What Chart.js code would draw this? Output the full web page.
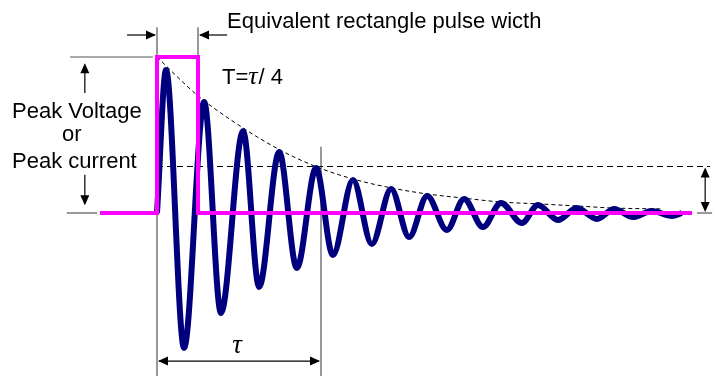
<!DOCTYPE html>
<html>
<head>
<meta charset="utf-8">
<script src="https://cdn.jsdelivr.net/npm/chart.js@4/dist/chart.umd.min.js"></script>
<style>
  html, body { margin: 0; padding: 0; background: #fff; }
  #c { display: block; }
</style>
</head>
<body>
<canvas id="c" width="719" height="376"></canvas>
<script>
// time in units of the pulse width T, amplitude relative to the peak (1 = top of the pulse)
const TAU = 4;          // tau = 4 T
const LEVEL = 0.298;    // dashed reference level

// equivalent rectangle pulse
const pulseT = [-1.39, 0, 0, 1, 1, 13.05];
const pulseV = [0, 0, 1, 1, 0, 0];

// damped oscillation (peaks and troughs)
const waveT = [0, 0.22, 0.66, 1.15, 1.56, 2.10, 2.49, 2.98, 3.41, 3.88, 4.29, 4.78, 5.24, 5.71, 6.15,
               6.59, 7.07, 7.49, 7.95, 8.39, 8.90, 9.29, 9.78, 10.24, 10.73, 11.15, 11.61, 12.07, 12.56, 12.80];
const waveV = [0, 0.917, -0.865, 0.712, -0.641, 0.526, -0.474, 0.391, -0.353, 0.288, -0.269, 0.212, -0.199, 0.154, -0.154,
               0.109, -0.109, 0.090, -0.090, 0.064, -0.064, 0.051, -0.045, 0.032, -0.038, 0.026, -0.026, 0.013, -0.019, 0];

// envelope
const envT = [0, 0.98, 2.10, 3.00, 3.90, 4.78, 5.73, 6.59, 7.46, 8.37, 9.34, 10.24, 11.12, 12.34];
const envV = [1.0, 0.756, 0.545, 0.404, 0.295, 0.218, 0.160, 0.122, 0.096, 0.071, 0.058, 0.045, 0.032, 0.026];

// horizontal reference
const levelT = [0, 13.49];
const levelV = [LEVEL, LEVEL];

const pts = (xs, ys) => xs.map((x, i) => ({ x: x, y: ys[i] }));

const SANS = '"Liberation Sans", Arial, sans-serif';
const SERIF = '"Liberation Serif", "DejaVu Serif", serif';

function arrowHead(ctx, x, y, dx, dy) {
    // filled head pointing along (dx,dy), tip at (x,y)
    const len = 10, half = 4.5;
    const n = Math.hypot(dx, dy); dx /= n; dy /= n;
    ctx.beginPath();
    ctx.moveTo(x, y);
    ctx.lineTo(x - dx * len - dy * half, y - dy * len + dx * half);
    ctx.lineTo(x - dx * len + dy * half, y - dy * len - dx * half);
    ctx.closePath();
    ctx.fill();
}

function line(ctx, x1, y1, x2, y2) {
    ctx.beginPath();
    ctx.moveTo(x1, y1);
    ctx.lineTo(x2, y2);
    ctx.stroke();
}

const guides = {
    id: 'guides',
    beforeDatasetsDraw(chart) {
        const { ctx, scales: { x, y } } = chart;
        const px = v => x.getPixelForValue(v);
        const py = v => y.getPixelForValue(v);
        ctx.save();
        ctx.strokeStyle = '#555';
        ctx.lineWidth = 1.2;
        // vertical guides
        line(ctx, px(0), py(1.19), px(0), py(-1.05));
        line(ctx, px(1), py(1.19), px(1), py(1));
        line(ctx, px(TAU), py(0.425), px(TAU), py(-1.05));
        // peak level marks on the left
        line(ctx, px(-2.12), py(1), px(-0.1), py(1));
        line(ctx, px(-2.2), py(0), px(-1.46), py(0));
        // right side marks
        line(ctx, px(13.17), py(0), px(13.54), py(0));
        ctx.restore();
    },
    afterDatasetsDraw(chart) {
        const { ctx, scales: { x, y } } = chart;
        const px = v => x.getPixelForValue(v);
        const py = v => y.getPixelForValue(v);
        ctx.save();
        ctx.strokeStyle = '#000';
        ctx.fillStyle = '#000';
        ctx.lineWidth = 1.2;

        // pulse width arrows
        const yw = py(1.141);
        line(ctx, px(-0.73), yw, px(-0.05), yw);
        arrowHead(ctx, px(0) - 1, yw, 1, 0);
        line(ctx, px(1.71), yw, px(1.05), yw);
        arrowHead(ctx, px(1) + 1, yw, -1, 0);

        // tau arrow
        const yt = py(-0.949);
        line(ctx, px(0) + 2, yt, px(TAU) - 2, yt);
        arrowHead(ctx, px(0) + 1, yt, -1, 0);
        arrowHead(ctx, px(TAU) - 1, yt, 1, 0);

        // peak voltage arrows
        const xa = px(-1.76);
        line(ctx, xa, py(0.77), xa, py(0.95));
        arrowHead(ctx, xa, py(0.96), 0, -1);
        line(ctx, xa, py(0.245), xa, py(0.06));
        arrowHead(ctx, xa, py(0.05), 0, 1);

        // right double arrow
        const xr = px(13.37);
        line(ctx, xr, py(LEVEL) + 3, xr, py(0) - 3);
        arrowHead(ctx, xr, py(LEVEL) + 1, 0, -1);
        arrowHead(ctx, xr, py(0) - 1, 0, 1);

        // texts
        ctx.fillStyle = '#000';
        ctx.textBaseline = 'alphabetic';
        ctx.textAlign = 'left';
        ctx.font = '22px ' + SANS;
        ctx.fillText('Equivalent rectangle pulse wicth', px(1.71), py(1.186));
        ctx.fillText('Peak Voltage', 12, 118);
        ctx.fillText('or', 62, 141);
        ctx.fillText('Peak current', 12, 168);

        // T = tau / 4
        let tx = 222, ty = 84;
        ctx.fillText('T=', tx, ty);
        tx += ctx.measureText('T=').width;
        ctx.font = 'italic 26px ' + SERIF;
        ctx.fillText('τ', tx, ty);
        tx += ctx.measureText('τ').width + 1;
        ctx.font = '22px ' + SANS;
        ctx.fillText('/ 4', tx, ty);

        ctx.font = 'italic 27px ' + SERIF;
        ctx.textAlign = 'center';
        ctx.fillText('τ', px(TAU / 2) - 2, py(-0.895));
        ctx.restore();
    }
};

new Chart(document.getElementById('c'), {
    type: 'scatter',
    data: {
        datasets: [
            {
                data: pts(pulseT, pulseV), showLine: true, order: 0,
                borderColor: '#ff00ff', borderWidth: 4, pointRadius: 0, tension: 0,
                borderJoinStyle: 'miter'
            },
            {
                data: pts(waveT, waveV), showLine: true, order: 1,
                borderColor: '#00007f', borderWidth: 6, pointRadius: 0,
                cubicInterpolationMode: 'monotone'
            },
            {
                data: pts(envT, envV), showLine: true, order: 2,
                borderColor: '#000', borderWidth: 1, borderDash: [4, 3], pointRadius: 0,
                cubicInterpolationMode: 'monotone'
            },
            {
                data: pts(levelT, levelV), showLine: true, order: 3,
                borderColor: '#000', borderWidth: 1, borderDash: [6, 4], pointRadius: 0
            }
        ]
    },
    options: {
        responsive: false,
        animation: false,
        events: [],
        layout: { padding: 0 },
        plugins: { legend: { display: false }, tooltip: { enabled: false } },
        scales: {
            x: { type: 'linear', display: false, min: -157 / 41, max: (719 - 157) / 41 },
            y: { type: 'linear', display: false, min: -163 / 156, max: 213 / 156 }
        }
    },
    plugins: [guides]
});
</script>
</body>
</html>
